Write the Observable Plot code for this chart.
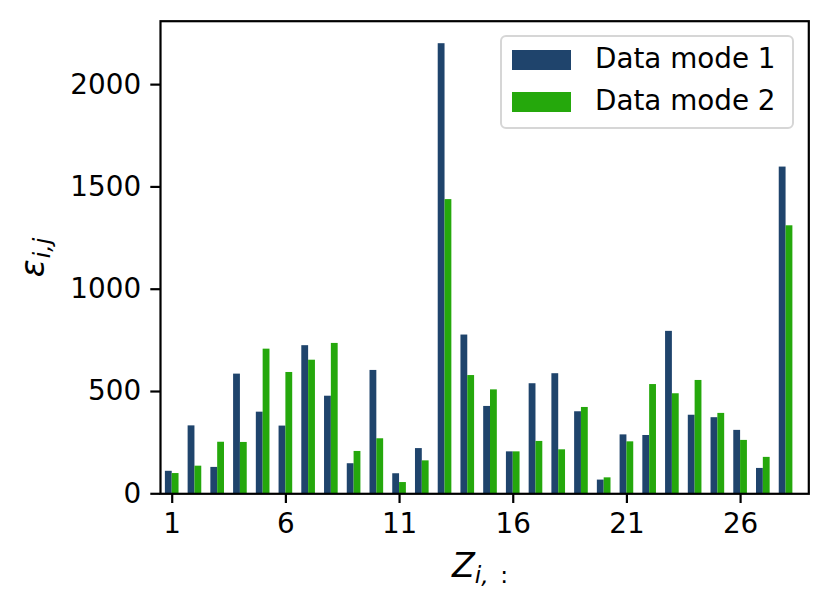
<!DOCTYPE html>
<html>
<head>
<meta charset="utf-8">
<script src="https://cdn.jsdelivr.net/npm/d3@7"></script>
<script src="https://cdn.jsdelivr.net/npm/@observablehq/plot@0.6"></script>
<style>
  html, body { margin: 0; padding: 0; background: #fff; }
  #wrap { position: relative; width: 829px; height: 610px; font-family: "DejaVu Sans", sans-serif; }
  #legend { position: absolute; left: 500px; top: 35px; width: 294px; height: 94px;
    border: 2px solid #d6d6d6; border-radius: 6px; background: rgba(255,255,255,0.8); box-sizing: border-box; }
  .lg-row { position: absolute; left: 0; height: 28px; }
  .lg-sw { position: absolute; left: 10px; width: 59px; height: 20px; }
  .lg-tx { position: absolute; left: 93px; font-size: 27.8px; line-height: 28px; color: #000; white-space: nowrap; }
</style>
</head>
<body>
<div id="wrap"></div>
<script>
const categories = [1,2,3,4,5,6,7,8,9,10,11,12,13,14,15,16,17,18,19,20,21,22,23,24,25,26,27,28];
const mode1 = [110,332,129,585,399,331,724,477,147,603,98,221,2200,776,427,205,538,587,401,67,288,285,794,384,372,310,124,1597];
const mode2 = [99,135,252,251,707,593,653,735,207,269,55,161,1438,578,508,205,256,215,422,78,254,534,489,554,393,261,178,1310];
const seriesNames = ["Data mode 1", "Data mode 2"];
const seriesColors = ["#1f446c", "#25a80c"];
const xTicks = [1,6,11,16,21,26];
const yTicks = [0,500,1000,1500,2000];

const rows = [];
categories.forEach((c, i) => {
  rows.push({cat: c, value: mode1[i], series: seriesNames[0], off: -0.3});
  rows.push({cat: c, value: mode2[i], series: seriesNames[1], off: 0});
});

const FS = 27.8;
const LFS = 33.4;
const chart = Plot.plot({
  width: 829,
  height: 610,
  marginLeft: 160,
  marginRight: 20.7,
  marginTop: 20.7,
  marginBottom: 116.7,
  style: {fontFamily: "DejaVu Sans, sans-serif", fontSize: FS + "px", color: "#000", background: "#fff"},
  x: {type: "linear", domain: [0.485, 29.0]},
  y: {domain: [0, 2310]},
  color: {domain: seriesNames, range: seriesColors},
  marks: [
    Plot.rectY(rows, {
      x1: d => d.cat + d.off,
      x2: d => d.cat + d.off + 0.3,
      y1: 0,
      y2: "value",
      fill: "series",
      inset: 0
    }),
    Plot.axisX({ticks: xTicks, tickSize: 9.7, tickPadding: 9.7, strokeWidth: 2.2, fontSize: FS, label: null, tickFormat: d => String(d)}),
    Plot.axisY({ticks: yTicks, tickSize: 9.7, tickPadding: 9.7, strokeWidth: 2.2, fontSize: FS, label: null, tickFormat: d => String(d)}),
    Plot.frame({stroke: "#000", strokeWidth: 2.2})
  ]
});

const wrap = document.getElementById("wrap");
wrap.appendChild(chart);

// axis labels with math-style subscripts
const svg = d3.select(chart);
const yl = svg.append("text")
  .attr("transform", "translate(44,257.5) rotate(-90)")
  .attr("text-anchor", "middle")
  .attr("font-family", "DejaVu Sans, sans-serif")
  .attr("font-size", LFS)
  .attr("fill", "#000");
yl.append("tspan").attr("font-style", "italic").text("ε");
yl.append("tspan").attr("font-style", "italic").attr("font-size", LFS * 0.7).attr("dx", 1).attr("dy", 6).text("i,j");

const xl = svg.append("text")
  .attr("x", 480).attr("y", 577)
  .attr("text-anchor", "middle")
  .attr("font-family", "DejaVu Sans, sans-serif")
  .attr("font-size", LFS)
  .attr("fill", "#000");
xl.append("tspan").attr("font-style", "italic").text("Z");
xl.append("tspan").attr("font-style", "italic").attr("font-size", LFS * 0.7).attr("dy", 6).text("i,");
xl.append("tspan").attr("font-size", LFS * 0.7).attr("dx", 4).text(" :");

// legend
const lg = document.createElement("div");
lg.id = "legend";
seriesNames.forEach((name, i) => {
  const row = document.createElement("div");
  row.className = "lg-row";
  row.style.top = (i === 0 ? 13 : 55) + "px";
  const sw = document.createElement("div");
  sw.className = "lg-sw";
  sw.style.background = seriesColors[i];
  sw.style.top = "0px";
  const tx = document.createElement("div");
  tx.className = "lg-tx";
  tx.style.top = "-5px";
  tx.textContent = name;
  row.appendChild(sw);
  row.appendChild(tx);
  lg.appendChild(row);
});
wrap.appendChild(lg);
</script>
</body>
</html>
